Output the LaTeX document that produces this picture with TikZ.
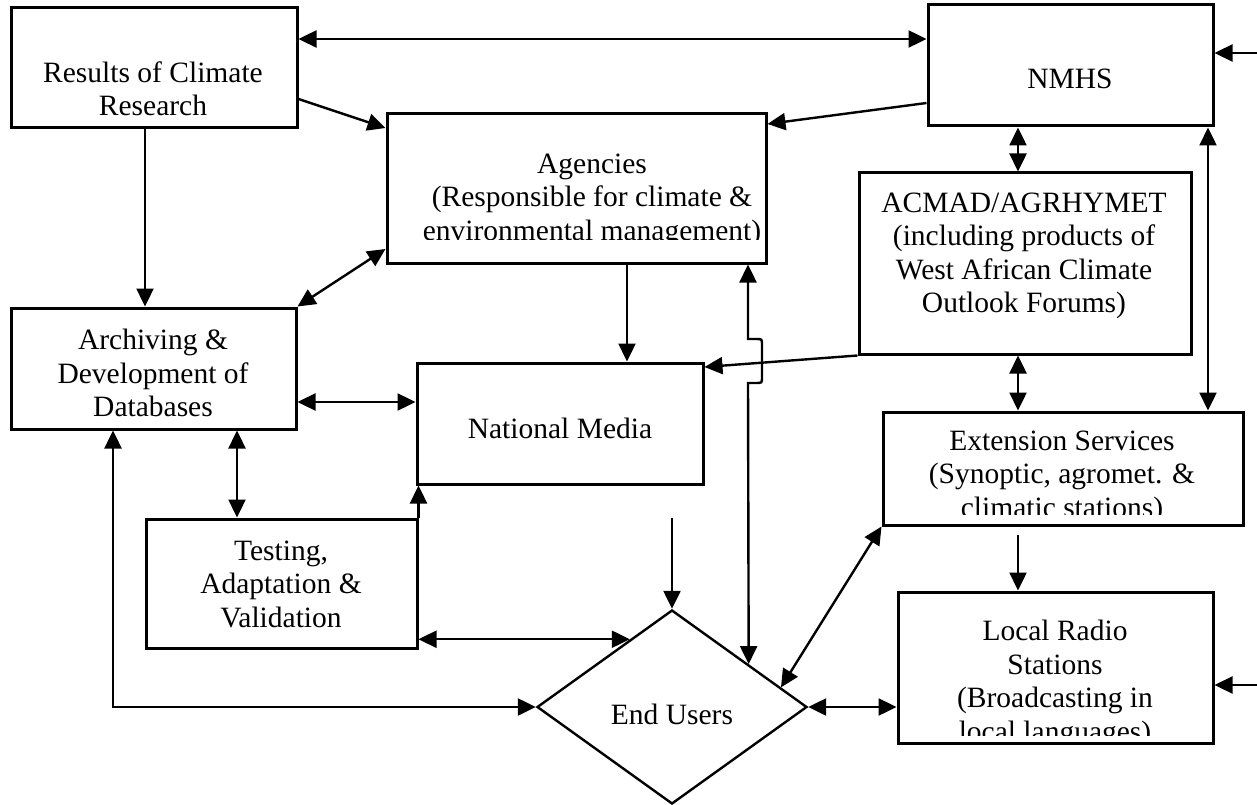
\documentclass[tikz,border=0pt]{standalone}
\usepackage{fontspec}
\setmainfont{Liberation Serif}
\usetikzlibrary{arrows.meta,shapes.geometric,calc}
\begin{document}
\begin{tikzpicture}[x=1pt,y=-1pt,
  box/.style={draw, line width=3pt, inner sep=0pt},
  txt/.style={align=center, inner sep=0pt, font=\fontsize{29.5}{33.5}\selectfont},
  tip/.tip={Triangle[length=18pt,width=17pt]},
  con/.style={line width=2.4pt, -tip},
  dbl/.style={line width=2.4pt, tip-tip},
  plain/.style={line width=2.4pt}]
\useasboundingbox (0,0) rectangle (1257,805);

% boxes
\node[box, minimum width=286pt, minimum height=120pt] (res) at (154,68) {};
\node[box, minimum width=285pt, minimum height=121pt] (nmhs) at (1070.5,65.5) {};
\node[box, minimum width=379pt, minimum height=149pt] (agen) at (576.5,188.5) {};
\node[box, minimum width=332pt, minimum height=181pt] (acmad) at (1025,263.5) {};
\node[box, minimum width=285pt, minimum height=121pt] (arch) at (153.5,368.5) {};
\node[box, minimum width=286pt, minimum height=121pt] (media) at (560,423.5) {};
\node[box, minimum width=271pt, minimum height=129pt] (test) at (281.5,583.5) {};
\node[box, minimum width=360pt, minimum height=113pt] (ext) at (1063,468.5) {};
\node[box, minimum width=315pt, minimum height=151pt] (radio) at (1055.5,667.5) {};
\node[draw, diamond, line width=2.4pt, inner sep=0pt, minimum width=270pt, minimum height=194pt] (users) at (672,707) {};

% texts
\node[txt] (res-t) at (153,89) {Results of Climate\\Research};
\node[txt] (nmhs-t) at (1070,79) {NMHS};
\begin{scope}
\clip (387,114) rectangle (766,239);
\node[txt] (agen-t) at (592,200) {Agencies\\(Responsible for climate \&\\environmental management)};
\end{scope}
\node[txt] (acmad-t) at (1024,256) {ACMAD/AGRHYMET\\(including products of\\West African Climate\\Outlook Forums)};
\node[txt] (arch-t) at (153,373) {Archiving \&\\Development of\\Databases};
\node[txt] (media-t) at (560,428) {National Media};
\node[txt] (test-t) at (281,584) {Testing,\\Adaptation \&\\Validation};
\begin{scope}
\clip (883,412) rectangle (1243,514);
\node[txt] (ext-t) at (1062,477) {Extension Services\\(Synoptic, agromet. \&\\climatic stations)};
\end{scope}
\begin{scope}
\clip (898,592) rectangle (1213,735);
\node[txt] (radio-t) at (1055,684) {Local Radio\\Stations\\(Broadcasting in\\local languages)};
\end{scope}
\node[txt] (users-t) at (672,714) {End Users};

% helper coordinates
\coordinate (ut1) at ($(users.north)!0.31!(users.west)$);
\coordinate (ue1) at ($(users.north)!0.563!(users.east)$);
\coordinate (ue2) at ($(users.north)!0.8!(users.east)$);
\coordinate (mu) at (672,518);
\coordinate (er) at (1018,535);
\coordinate (rn) at (1257,53);
\coordinate (rr) at (1257,685);

% connectors
\draw[dbl] (res.east |- 0,39) -- (nmhs.west |- 0,39);
\draw[con] (res.east |- 0,99) -- (agen.west |- 0,128);
\draw[con] (145,0 |- res.south) -- (145,0 |- arch.north);
\draw[con] (nmhs.west |- 0,103) -- (agen.east |- 0,124);
\draw[dbl] (agen.west |- 0,249) -- (arch.north east);
\draw[con] (627,0 |- agen.south) -- (627,0 |- media.north);
\draw[dbl] (1018,0 |- nmhs.south) -- (1018,0 |- acmad.north);
\draw[dbl] (1208,0 |- nmhs.south) -- (1208,0 |- ext.north);
\draw[con] (acmad.south west) -- (media.east |- 0,367);
\draw[dbl] (1018,0 |- acmad.south) -- (1018,0 |- ext.north);
\draw[dbl] (arch.east |- 0,402) -- (media.west |- 0,402);
\draw[dbl] (237,0 |- arch.south) -- (237,0 |- test.north);
\draw[dbl] (users.west) -| (113,0 |- arch.south);
\draw[con] (test.north east) -- (test.north east |- media.south);
\draw[dbl] (test.east |- ut1) -- (ut1);
\draw[con] (mu) -- (users.north);
\draw[dbl] (ue1) -- (748,383) -- (756,383) .. controls (762,383) .. (762,377)
  -- (762,345) .. controls (762,339) .. (756,339) -- (748,339) -- (748,0 |- agen.south);
\draw[dbl] (ext.south west) -- (ue2);
\draw[con] (er) -- (1018,0 |- radio.north);
\draw[dbl] (users.east) -- (radio.west |- users.east);
\draw[con] (rn) -- (nmhs.east |- rn);
\draw[con] (rr) -- (radio.east |- rr);
\end{tikzpicture}
\end{document}
